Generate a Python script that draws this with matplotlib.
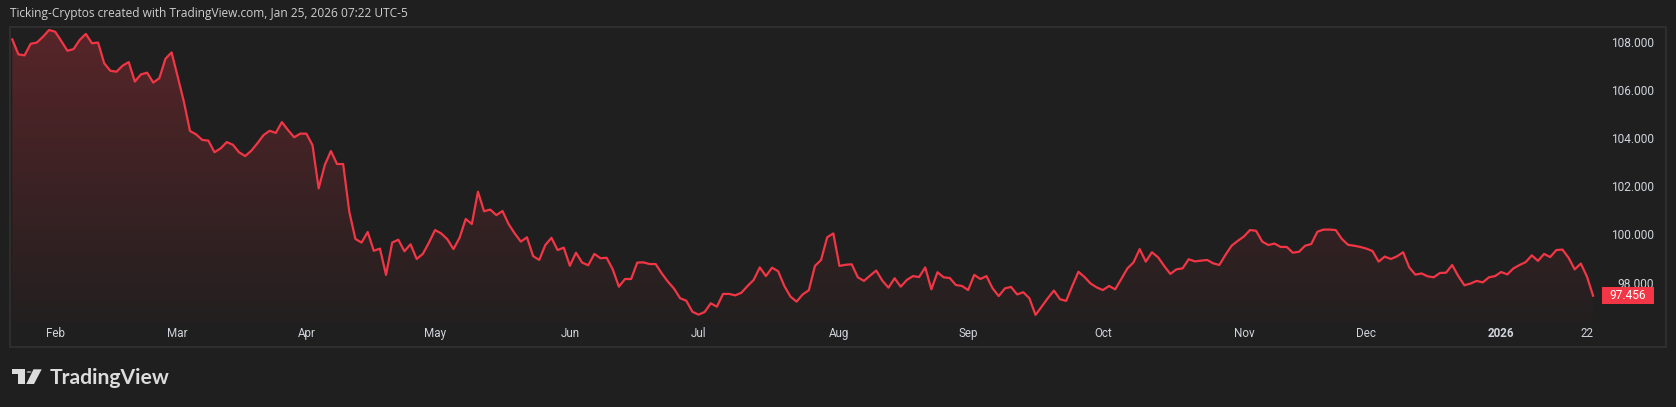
import numpy as np
import pandas as pd
import matplotlib
matplotlib.use('Agg')
import matplotlib.pyplot as plt
from matplotlib.colors import LinearSegmentedColormap
from matplotlib.patches import Polygon, Rectangle, Circle

# daily close (Jan 23 2025 -> Jan 23 2026)
close_jan_apr = [108.09, 107.47, 107.43, 107.91, 107.96, 108.20, 108.48, 108.41, 108.02, 107.62,
                 107.69, 108.07, 108.32, 107.93, 107.96, 107.10, 106.79, 106.75, 107.00, 107.15,
                 106.34, 106.64, 106.71, 106.30, 106.48, 107.29, 107.55, 106.54, 105.51, 104.29,
                 104.15, 103.92, 103.89, 103.41, 103.57, 103.83, 103.72, 103.41, 103.25, 103.47,
                 103.78, 104.12, 104.30, 104.21, 104.66, 104.33, 104.03, 104.18, 104.18, 103.70,
                 101.91, 102.88, 103.46, 102.92, 102.92, 100.94, 99.81, 99.66, 100.10, 99.32,
                 99.41, 98.32, 99.66, 99.78, 99.30, 99.59, 98.98]
close_apr_jul = [99.19, 99.66, 100.18, 100.04, 99.80, 99.39, 99.86, 100.64, 100.43,
                 101.77, 100.96, 101.03, 100.80, 100.97, 100.43, 100.04, 99.70, 99.88, 99.10,
                 98.94, 99.56, 99.86, 99.35, 99.45, 98.70, 99.24, 98.83, 98.72, 99.19,
                 99.01, 99.03, 98.55, 97.83, 98.15, 98.15, 98.83, 98.84, 98.77, 98.77,
                 98.38, 98.04, 97.75, 97.35, 97.25, 96.79, 96.67, 96.78, 97.14, 97.00,
                 97.53, 97.53, 97.47, 97.58, 97.86, 98.11, 98.63, 98.27, 98.62, 98.47,
                 97.86, 97.42, 97.21, 97.51, 97.68, 98.69]
close_jul_oct = [98.94, 99.88, 100.04, 98.69, 98.74, 98.76, 98.22, 98.07, 98.29,
                 98.50, 98.08, 97.79, 98.18, 97.83, 98.11, 98.27, 98.23, 98.63, 97.72,
                 98.43, 98.22, 98.19, 97.90, 97.86, 97.69, 98.32, 98.15, 98.27, 97.76,
                 97.44, 97.76, 97.82, 97.51, 97.60, 97.35, 96.66, 97.00, 97.35, 97.67,
                 97.31, 97.24, 97.86, 98.45, 98.23, 97.96, 97.80, 97.69, 97.86, 97.72,
                 98.15, 98.59, 98.84, 99.39, 98.87, 99.26, 99.05, 98.69, 98.36, 98.55,
                 98.59, 98.97, 98.88, 98.91, 98.94, 98.80]
close_oct_jan = [98.73, 99.15, 99.53, 99.73, 99.91, 100.18, 100.15, 99.70, 99.56, 99.62,
                 99.48, 99.48, 99.24, 99.28, 99.53, 99.60, 100.11, 100.20, 100.20, 100.18,
                 99.81, 99.57, 99.53, 99.48, 99.41, 99.31, 98.87, 99.08, 98.98, 99.09,
                 99.26, 98.63, 98.33, 98.38, 98.26, 98.22, 98.40, 98.41, 98.73, 98.27,
                 97.89, 97.96, 98.07, 98.01, 98.22, 98.27, 98.44, 98.34, 98.59, 98.73,
                 98.85, 99.13, 98.90, 99.19, 99.06, 99.35, 99.37, 99.03, 98.55, 98.79,
                 98.25, 97.456]

start_date = '2025-01-23'
end_date = '2026-01-23'
holidays = ['2025-04-18', '2025-12-25', '2026-01-01']
tick_dates = ['2025-02-03', '2025-03-03', '2025-04-01', '2025-05-01', '2025-06-02', '2025-07-01',
              '2025-08-01', '2025-09-01', '2025-10-01', '2025-11-03', '2025-12-01', '2026-01-02',
              '2026-01-22']
tick_labels = ['Feb', 'Mar', 'Apr', 'May', 'Jun', 'Jul', 'Aug', 'Sep', 'Oct', 'Nov', 'Dec', '2026', '22']
price_ticks = [98, 100, 102, 104, 106, 108]
title = 'Ticking-Cryptos created with TradingView.com, Jan 25, 2026 07:22 UTC-5'

bg = '#1f1f1f'
red = '#f23645'
txt = '#d1d4dc'
plt.rcParams['font.family'] = ['Roboto', 'DejaVu Sans']

close = np.array(close_jan_apr + close_apr_jul + close_jul_oct + close_oct_jan)
dates = pd.bdate_range(start_date, end_date).drop(pd.to_datetime(holidays))
x = np.arange(len(close))
tick_pos = dates.get_indexer(pd.to_datetime(tick_dates))

W, H = 1676, 407
fig = plt.figure(figsize=(W / 100, H / 100), dpi=100, facecolor=bg)
ax = fig.add_axes([10 / W, 1 - 322 / H, 1590 / W, 295 / H])
ax.set_facecolor(bg)

ybot, ytop = 96.365, 108.606

# gradient area under the line
cmap = LinearSegmentedColormap.from_list('fade', [(0.949, 0.212, 0.271, 0.02), (0.949, 0.212, 0.271, 0.27)])
grad = np.linspace(0, 1, 256).reshape(-1, 1)
im = ax.imshow(grad, extent=(x[0], x[-1], ybot, close.max()), origin='lower', aspect='auto',
               cmap=cmap, zorder=1, interpolation='bilinear')
verts = np.vstack([[x[0], ybot], np.column_stack([x, close]), [x[-1], ybot]])
clip = Polygon(verts, closed=True, facecolor='none', edgecolor='none')
ax.add_patch(clip)
im.set_clip_path(clip)

ax.plot(x, close, color=red, lw=1.6, zorder=3, solid_joinstyle='round')

ax.set_xlim(-0.375, len(close) + 0.13)
ax.set_ylim(ybot, ytop)
for s in ax.spines.values():
    s.set_visible(False)

ax.set_xticks(tick_pos)
ax.set_xticklabels(tick_labels)
ax.tick_params(axis='x', length=0, pad=3.5, labelsize=8.4, labelcolor=txt)
for lab in ax.get_xticklabels():
    if lab.get_text() == '2026':
        lab.set_fontweight('bold')

ax.yaxis.tick_right()
ax.set_yticks(price_ticks)
ax.set_yticklabels([f'{v:.3f}' for v in price_ticks])
ax.tick_params(axis='y', length=0, pad=38.9, labelsize=8.6, labelcolor=txt)
for t in ax.yaxis.get_major_ticks():
    t.label2.set_horizontalalignment('right')

# last price tag
py = ax.transData.transform((x[-1], close[-1]))[1]
fig.add_artist(Rectangle((1602 / W, (py - 8.3) / H), 52 / W, 16.6 / H, transform=fig.transFigure,
                         facecolor=red, edgecolor='none', zorder=5))
fig.text(1628 / W, py / H, f'{close[-1]:.3f}', ha='center', va='center', color='white',
         fontsize=8.6, zorder=6)

# pane border
fig.add_artist(Rectangle((9.5 / W, 1 - 346.5 / H), 1656 / W, 320 / H, transform=fig.transFigure,
                         fill=False, edgecolor='#2e2e2e', lw=1.5))

fig.text(10 / W, 1 - 14 / H, title, va='center', ha='left', color='#cfcfcf', fontsize=8.55,
         family=['Open Sans', 'DejaVu Sans'])

# TradingView logo
def fp(px, py_):
    return (px / W, 1 - py_ / H)

logo = '#dcdcdc'
fig.add_artist(Polygon([fp(12, 369.3), fp(25, 369.3), fp(25, 384), fp(18.3, 384), fp(18.3, 374.3),
                        fp(12, 374.3)], closed=True, transform=fig.transFigure, facecolor=logo, edgecolor='none'))
fig.add_artist(Polygon([fp(33.5, 369.3), fp(41.7, 369.3), fp(34, 384), fp(26.3, 384)], closed=True,
                       transform=fig.transFigure, facecolor=logo, edgecolor='none'))
fig.add_artist(Circle(fp(29, 372), 2.5 / W, transform=fig.transFigure, facecolor=logo, edgecolor='none'))
fig.text(50 / W, 1 - 384 / H, 'TradingView', va='baseline', ha='left', color=logo, fontsize=15.2,
         fontweight='bold', family=['Lato', 'DejaVu Sans'])

fig.savefig('out.png', dpi=100, facecolor=bg)
